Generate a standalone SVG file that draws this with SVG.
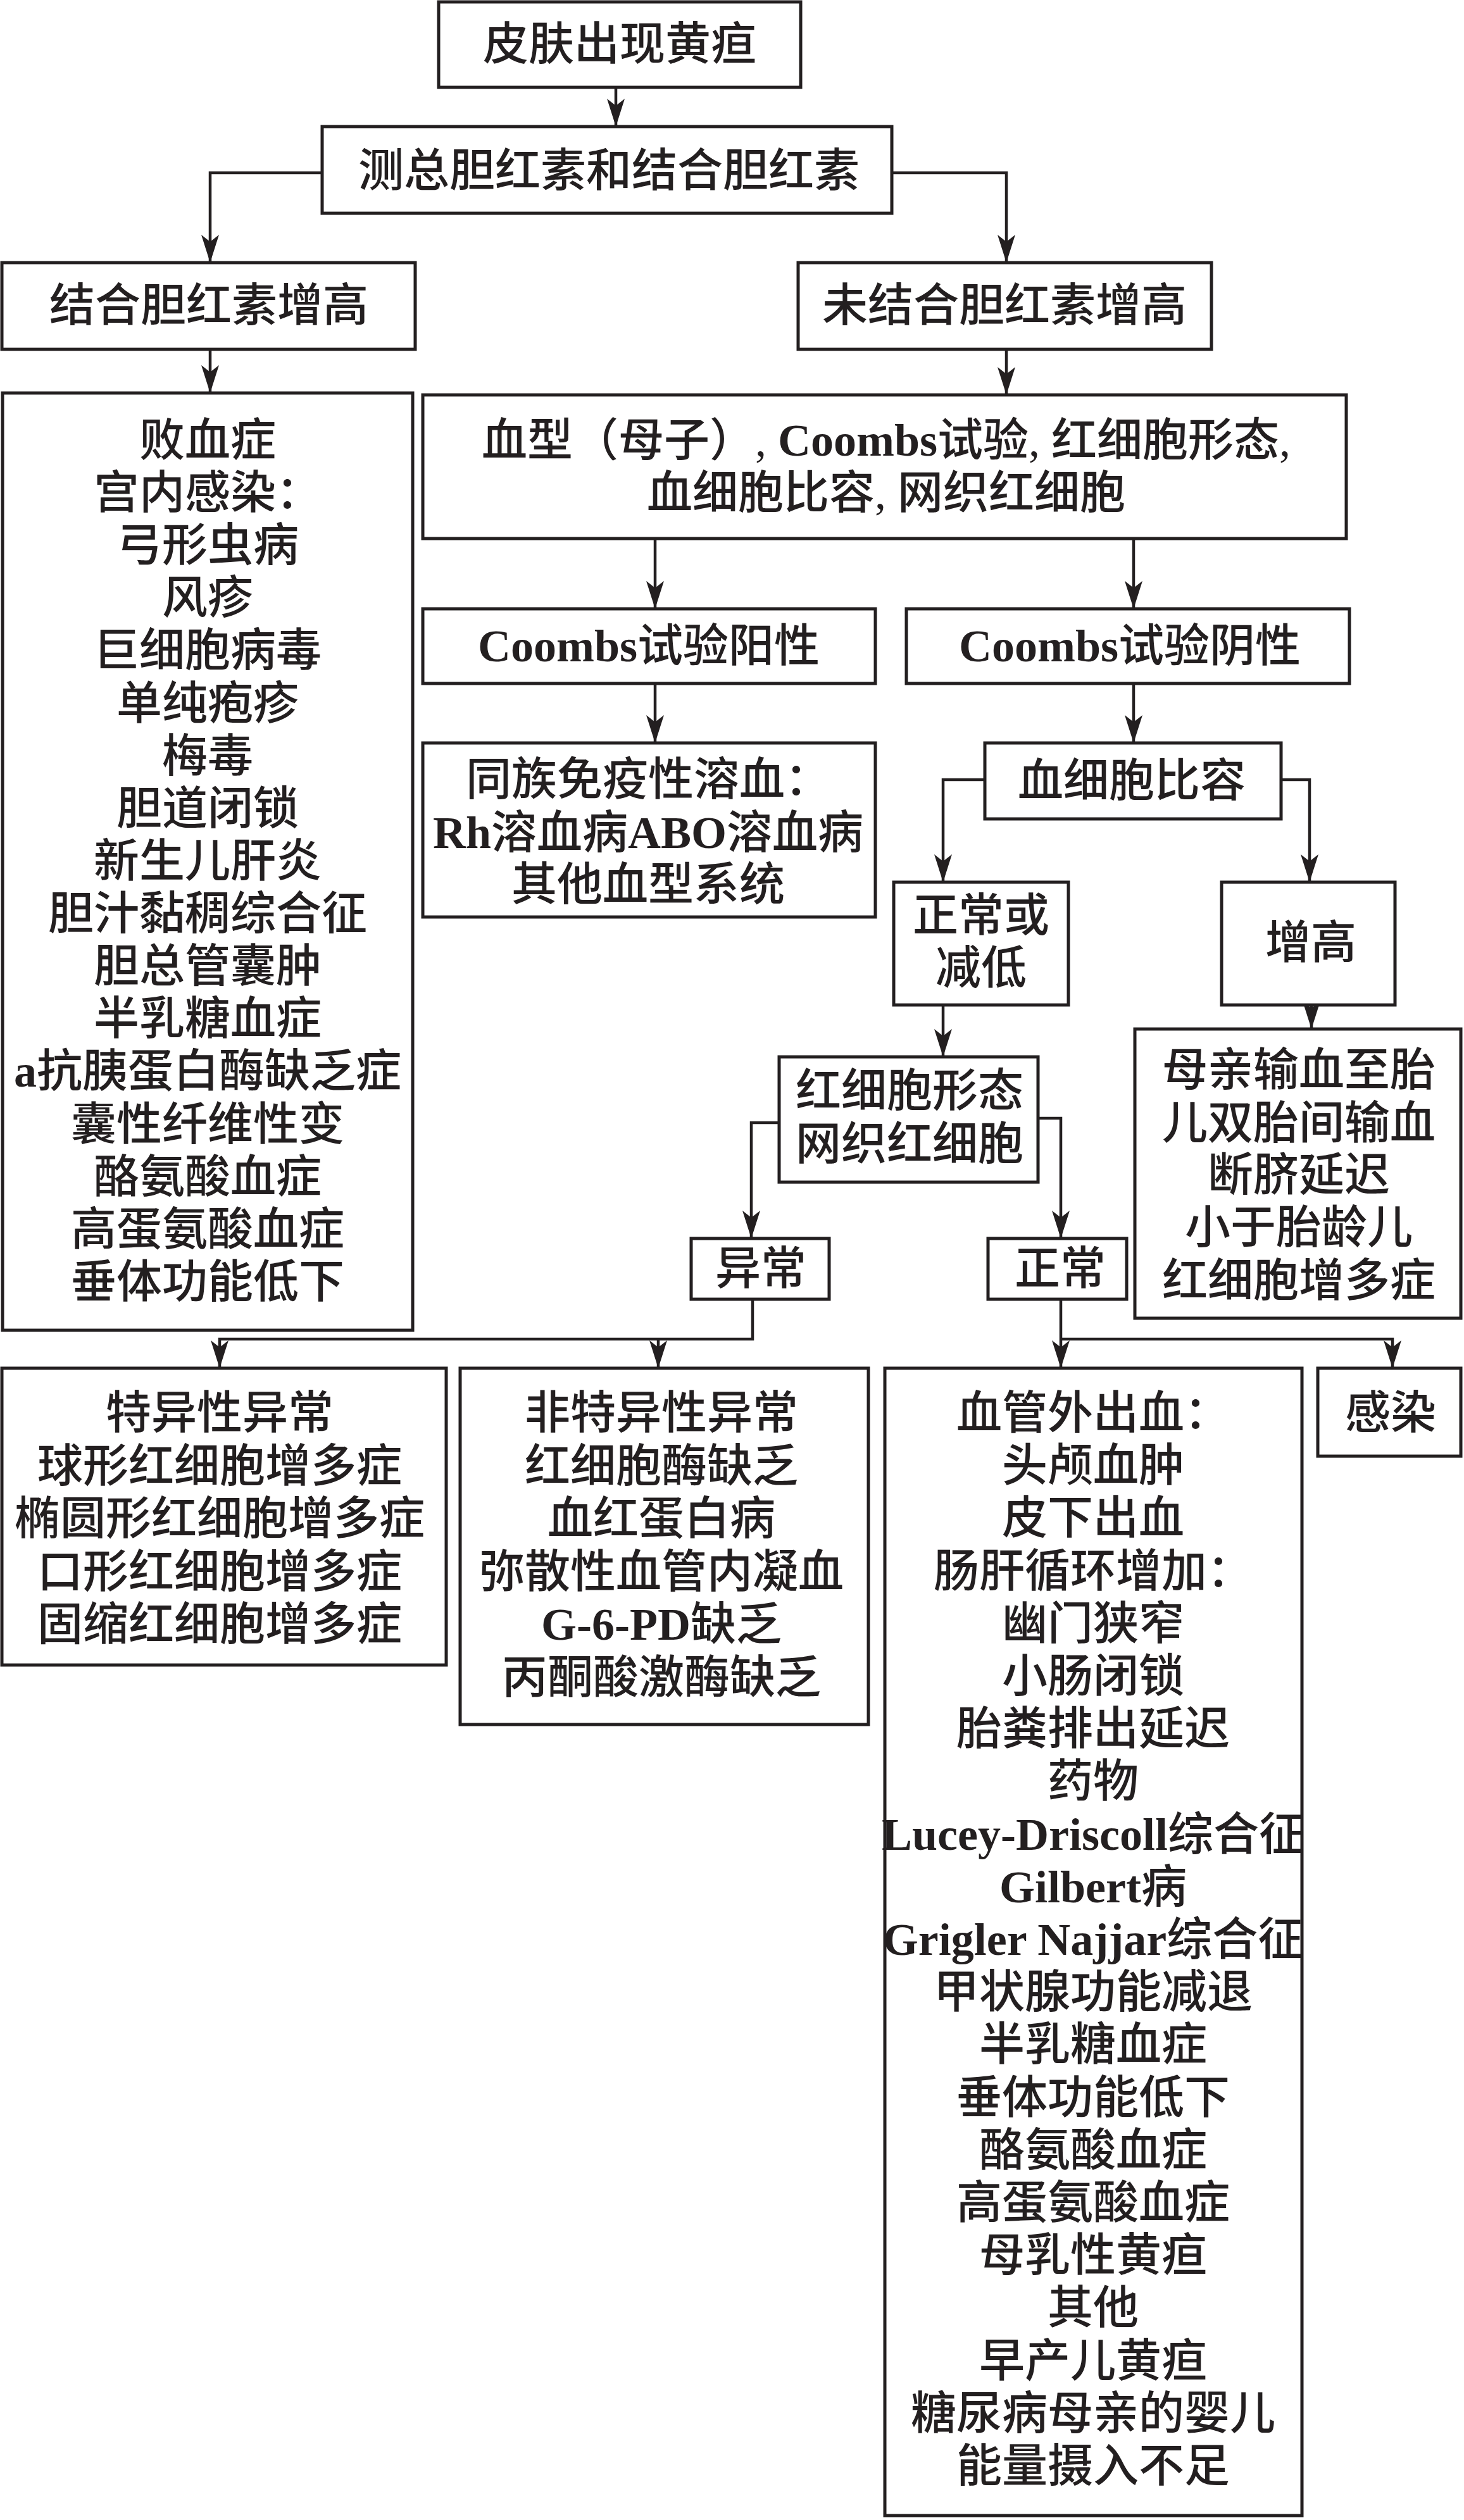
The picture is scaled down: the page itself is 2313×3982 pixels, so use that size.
<svg xmlns="http://www.w3.org/2000/svg" width="2313" height="3982" viewBox="0 0 2313 3982">
<style>
rect{fill:#fff;stroke:#231f20;stroke-width:5}
.c path{fill:none;stroke:#231f20;stroke-width:4.5}
text{font-family:"Liberation Serif","Noto Sans CJK SC",serif;font-size:72px;font-weight:500;fill:#231f20;text-anchor:middle;dominant-baseline:central}
.l{font-weight:bold}
</style>
<defs>
<marker id="a" markerUnits="userSpaceOnUse" viewBox="0 0 44 28" markerWidth="44" markerHeight="28" refX="44" refY="14" orient="auto">
<path d="M0,0 L44,14 L0,28 L11,14 Z" fill="#231f20"/>
</marker>
</defs>
<rect width="2313" height="3982" style="stroke:none"/>
<g class="c">
<path d="M973,139 V200" marker-end="url(#a)"/>
<path d="M509,273 H332 V415" marker-end="url(#a)"/>
<path d="M1409,273 H1590 V415" marker-end="url(#a)"/>
<path d="M332,552 V621" marker-end="url(#a)"/>
<path d="M1590,552 V624" marker-end="url(#a)"/>
<path d="M1035,851 V962" marker-end="url(#a)"/>
<path d="M1791,851 V962" marker-end="url(#a)"/>
<path d="M1035,1080 V1174" marker-end="url(#a)"/>
<path d="M1791,1080 V1174" marker-end="url(#a)"/>
<path d="M1556,1232 H1490 V1394" marker-end="url(#a)"/>
<path d="M2024,1232 H2069 V1394" marker-end="url(#a)"/>
<path d="M1490,1588 V1670" marker-end="url(#a)"/>
<path d="M2072,1588 V1626" marker-end="url(#a)"/>
<path d="M1231,1774 H1187 V1957" marker-end="url(#a)"/>
<path d="M1640,1767 H1676 V1957" marker-end="url(#a)"/>
<path d="M1189,2053 V2116 H347 V2162" marker-end="url(#a)"/>
<path d="M1040,2116 V2162" marker-end="url(#a)"/>
<path d="M1676,2053 V2162" marker-end="url(#a)"/>
<path d="M1676,2116 H2200 V2162" marker-end="url(#a)"/>
</g>
<g id="n1"><rect x="693" y="3" width="572" height="135"/><text x="979" y="70">皮肤出现黄疸</text></g>
<g id="n2"><rect x="509" y="200" width="900" height="137"/><text x="962" y="270">测总胆红素和结合胆红素</text></g>
<g id="n3"><rect x="3" y="415" width="653" height="137"/><text x="330" y="483">结合胆红素增高</text></g>
<g id="n4"><rect x="1261" y="415" width="653" height="137"/><text x="1587" y="483">未结合胆红素增高</text></g>
<g id="n5"><rect x="4" y="621" width="648" height="1481"/>
<text x="328" y="696">败血症</text>
<text x="328" y="779">宫内感染：</text>
<text x="328" y="862">弓形虫病</text>
<text x="328" y="945">风疹</text>
<text x="328" y="1028">巨细胞病毒</text>
<text x="328" y="1112">单纯疱疹</text>
<text x="328" y="1195">梅毒</text>
<text x="328" y="1278">胆道闭锁</text>
<text x="328" y="1361">新生儿肝炎</text>
<text x="328" y="1444">胆汁黏稠综合征</text>
<text x="328" y="1527">胆总管囊肿</text>
<text x="328" y="1610">半乳糖血症</text>
<text x="328" y="1693"><tspan class="l">a</tspan>抗胰蛋白酶缺乏症</text>
<text x="328" y="1777">囊性纤维性变</text>
<text x="328" y="1860">酪氨酸血症</text>
<text x="328" y="1943">高蛋氨酸血症</text>
<text x="328" y="2026">垂体功能低下</text>
</g>
<g id="n6"><rect x="668" y="624" width="1459" height="227"/>
<text x="1400" y="696">血型（母子）, <tspan class="l">Coombs</tspan>试验, 红细胞形态,</text>
<text x="1400" y="779">血细胞比容, 网织红细胞</text>
</g>
<g id="n7"><rect x="668" y="962" width="715" height="118"/><text x="1025" y="1021"><tspan class="l">Coombs</tspan>试验阳性</text></g>
<g id="n8"><rect x="1432" y="962" width="700" height="118"/><text x="1785" y="1021"><tspan class="l">Coombs</tspan>试验阴性</text></g>
<g id="n9"><rect x="668" y="1174" width="715" height="275"/>
<text x="1024" y="1232">同族免疫性溶血：</text>
<text x="1024" y="1316"><tspan class="l">Rh</tspan>溶血病<tspan class="l">ABO</tspan>溶血病</text>
<text x="1024" y="1398">其他血型系统</text>
</g>
<g id="n10"><rect x="1556" y="1174" width="468" height="120"/><text x="1788" y="1234">血细胞比容</text></g>
<g id="n11"><rect x="1412" y="1394" width="276" height="194"/><text x="1550" y="1447">正常或</text><text x="1550" y="1530">减低</text></g>
<g id="n12"><rect x="1930" y="1394" width="274" height="194"/><text x="2071" y="1490">增高</text></g>
<g id="n13"><rect x="1231" y="1670" width="409" height="198"/><text x="1437" y="1724">红细胞形态</text><text x="1437" y="1808">网织红细胞</text></g>
<g id="n14"><rect x="1092" y="1957" width="218" height="96"/><text x="1202" y="2005">异常</text></g>
<g id="n15"><rect x="1561" y="1957" width="219" height="96"/><text x="1675" y="2005">正常</text></g>
<g id="n16"><rect x="1793" y="1626" width="515" height="457"/>
<text x="2052" y="1691">母亲输血至胎</text>
<text x="2052" y="1775">儿双胎间输血</text>
<text x="2052" y="1857">断脐延迟</text>
<text x="2052" y="1940">小于胎龄儿</text>
<text x="2052" y="2024">红细胞增多症</text>
</g>
<g id="n17"><rect x="3" y="2162" width="702" height="469"/>
<text x="347" y="2233">特异性异常</text>
<text x="347" y="2317">球形红细胞增多症</text>
<text x="347" y="2400">椭圆形红细胞增多症</text>
<text x="347" y="2484">口形红细胞增多症</text>
<text x="347" y="2567">固缩红细胞增多症</text>
</g>
<g id="n18"><rect x="727" y="2162" width="645" height="563"/>
<text x="1045" y="2233">非特异性异常</text>
<text x="1045" y="2317">红细胞酶缺乏</text>
<text x="1045" y="2400">血红蛋白病</text>
<text x="1045" y="2484">弥散性血管内凝血</text>
<text x="1045" y="2567"><tspan class="l">G-6-PD</tspan>缺乏</text>
<text x="1045" y="2651">丙酮酸激酶缺乏</text>
</g>
<g id="n19"><rect x="1398" y="2162" width="659" height="1813"/>
<text x="1727" y="2233">血管外出血：</text>
<text x="1727" y="2316">头颅血肿</text>
<text x="1727" y="2399">皮下出血</text>
<text x="1727" y="2483">肠肝循环增加：</text>
<text x="1727" y="2566">幽门狭窄</text>
<text x="1727" y="2649">小肠闭锁</text>
<text x="1727" y="2732">胎粪排出延迟</text>
<text x="1727" y="2815">药物</text>
<text x="1727" y="2899"><tspan class="l">Lucey-Driscoll</tspan>综合征</text>
<text x="1727" y="2982"><tspan class="l">Gilbert</tspan>病</text>
<text x="1727" y="3065"><tspan class="l">Grigler Najjar</tspan>综合征</text>
<text x="1727" y="3148">甲状腺功能减退</text>
<text x="1727" y="3231">半乳糖血症</text>
<text x="1727" y="3315">垂体功能低下</text>
<text x="1727" y="3398">酪氨酸血症</text>
<text x="1727" y="3481">高蛋氨酸血症</text>
<text x="1727" y="3564">母乳性黄疸</text>
<text x="1727" y="3647">其他</text>
<text x="1727" y="3731">早产儿黄疸</text>
<text x="1727" y="3814">糖尿病母亲的婴儿</text>
<text x="1727" y="3897">能量摄入不足</text>
</g>
<g id="n20"><rect x="2082" y="2162" width="226" height="139"/><text x="2197" y="2233">感染</text></g>
</svg>
